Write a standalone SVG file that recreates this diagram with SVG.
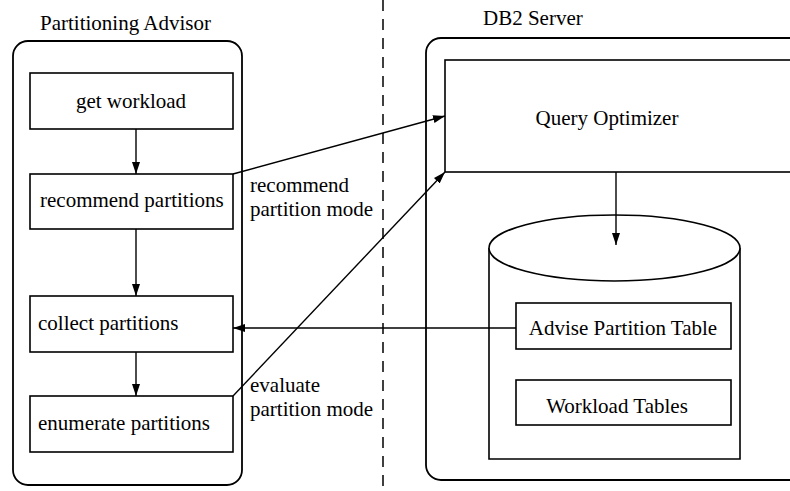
<svg xmlns="http://www.w3.org/2000/svg" width="790" height="491" viewBox="0 0 790 491">
<defs>
<style>
text{font-family:"Liberation Serif","Times New Roman",serif;font-size:21px;fill:#000}
.box{fill:#fff;stroke:#000;stroke-width:1.6}
.cont{fill:none;stroke:#000;stroke-width:1.8}
.conn{fill:none;stroke:#000;stroke-width:1.4}
</style>
<marker id="ah" viewBox="0 0 12 8" refX="12" refY="4" markerWidth="12" markerHeight="8" markerUnits="userSpaceOnUse" orient="auto">
<path d="M0,0 L12,4 L0,8 z" fill="#000"/>
</marker>
</defs>
<rect width="790" height="491" fill="#fff"/>
<line x1="383" y1="0" x2="383" y2="491" stroke="#000" stroke-width="1.5" stroke-dasharray="11,8"/>
<g id="advisor">
<rect class="cont" x="13" y="41" width="229" height="444" rx="15"/>
<text x="40" y="30">Partitioning Advisor</text>
</g>
<g id="get-workload">
<rect class="box" x="30" y="73" width="203" height="56"/>
<text x="131" y="108" text-anchor="middle">get workload</text>
</g>
<g id="recommend-partitions">
<rect class="box" x="30" y="174" width="203" height="55"/>
<text x="40" y="207">recommend partitions</text>
</g>
<g id="collect-partitions">
<rect class="box" x="30" y="296" width="203" height="56"/>
<text x="38" y="330">collect partitions</text>
</g>
<g id="enumerate-partitions">
<rect class="box" x="30" y="396" width="203" height="56"/>
<text x="38" y="430">enumerate partitions</text>
</g>
<g id="db2-server">
<rect class="cont" x="426" y="38" width="400" height="442" rx="15"/>
<text x="483" y="25">DB2 Server</text>
</g>
<g id="query-optimizer">
<rect class="box" x="445" y="60" width="380" height="112"/>
<text x="607" y="125" text-anchor="middle">Query Optimizer</text>
</g>
<g id="database">
<path class="box" d="M489,248 L489,459 L740,459 L740,248"/>
<ellipse class="box" cx="614.5" cy="248" rx="125.5" ry="33"/>
</g>
<g id="advise-partition-table">
<rect class="box" x="516" y="303" width="215" height="46"/>
<text x="623" y="335" text-anchor="middle">Advise Partition Table</text>
</g>
<g id="workload-tables">
<rect class="box" x="516" y="380" width="215" height="45"/>
<text x="617" y="413" text-anchor="middle">Workload Tables</text>
</g>
<g id="connectors">
<line class="conn" x1="136" y1="129" x2="136" y2="174" marker-end="url(#ah)"/>
<line class="conn" x1="136" y1="229" x2="136" y2="296" marker-end="url(#ah)"/>
<line class="conn" x1="136" y1="352" x2="136" y2="396" marker-end="url(#ah)"/>
<line class="conn" x1="616" y1="172" x2="616" y2="245" marker-end="url(#ah)"/>
<line class="conn" x1="516" y1="328" x2="233" y2="328" marker-end="url(#ah)"/>
<line class="conn" x1="233" y1="174" x2="445" y2="116" marker-end="url(#ah)"/>
<line class="conn" x1="233" y1="396" x2="445" y2="172" marker-end="url(#ah)"/>
<text x="250" y="192">recommend</text>
<text x="250" y="216">partition mode</text>
<text x="250" y="392">evaluate</text>
<text x="250" y="416">partition mode</text>
</g>
</svg>
